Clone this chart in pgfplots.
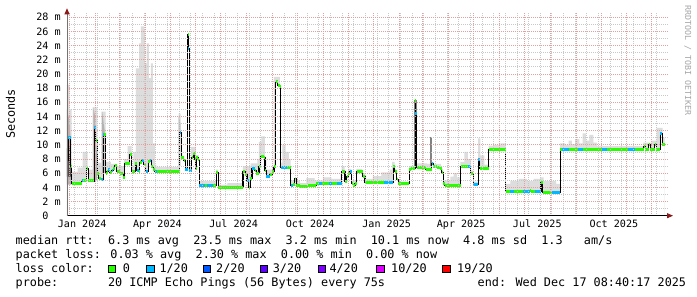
\documentclass[border=0pt]{standalone}
\usepackage{fontspec}
\newfontfamily\mono{DejaVu Sans Mono}
\usepackage{pgfplots}
\usepackage{pgfplotstable}
\pgfplotsset{compat=1.18}
\usetikzlibrary{arrows.meta}

\definecolor{lgreen}{RGB}{38,255,0}
\definecolor{lblue}{RGB}{0,184,255}
\definecolor{lb2}{RGB}{0,89,255}
\definecolor{lb3}{RGB}{94,0,255}
\definecolor{lb4}{RGB}{126,0,255}
\definecolor{lb10}{RGB}{221,0,255}
\definecolor{lb19}{RGB}{255,0,0}
\definecolor{smoke}{RGB}{221,221,221}
\definecolor{dsmoke}{RGB}{130,130,130}
\definecolor{mgrid}{RGB}{228,160,160}
\definecolor{ngrid}{RGB}{200,200,200}
\definecolor{arrowred}{RGB}{140,25,25}

\newcommand{\axf}{\fontsize{10.1}{12}\mono}
\newcommand{\lgf}{\fontsize{11.8}{14}\mono}

% median (day since 1 Jan 2024, ms)
\pgfplotstableread{
d v
-2.76 7.8
-1.0 11.0
1.5 7.0
2.8 4.6
14.8 4.9
20.8 6.6
22.8 4.9
30 12.4
31.6 10.6
33.6 6.0
35.6 5.3
37.6 5.1
40.8 11.4
43.6 6.0
44.8 6.3
46.8 6.5
48.8 6.1
50.8 6.4
52.8 6.7
54.8 7.1
56.8 6.2
60.8 6.0
64.8 5.4
66.8 7.3
70.8 7.4
72.8 8.6
74.8 6.3
79.2 7.3
80.8 6.4
83.2 6.2
84.8 7.5
86.8 7.8
89.6 7.2
92 6.2
94.8 7.6
96.8 7.8
98.8 7.0
100.8 6.5
102.8 6.2
132.8 11.7
134.4 8.2
137.6 7.8
139.2 6.5
142.4 25.6
143.0 23.6
144.4 6.4
147.2 8.2
148.8 8.8
150.8 8.0
152 6.7
152.8 8.2
155.2 7.9
156 4.3
172.8 4.2
176.8 6.1
179.2 4.0
208.8 6.3
211.6 5.8
213.6 5.0
215.6 4.0
217.6 5.3
219.6 6.6
222.8 6.4
224.8 6.0
228 7.0
230 8.4
234 8.2
235.2 6.4
236.8 5.5
240.8 5.8
244 6.2
246 6.9
248 18.9
250.4 18.4
252.8 18.2
254 6.8
266 4.3
269 4.4
271 5.2
273 4.3
277 4.1
287 4.3
297 4.5
327.4 6.3
331.4 4.8
333.4 5.5
335.4 6.0
337.4 6.2
339.4 4.5
341.4 4.2
343.4 4.6
345.4 6.2
347.4 6.3
352.6 5.6
355.4 4.7
389.4 7.0
391.4 6.2
393.4 5.1
395.4 4.5
408.6 6.5
410.2 6.7
415.6 16.3
416.0 14.4
417.4 6.8
428.6 6.5
435.4 7.3
437.4 6.9
441.4 6.8
445.4 6.6
447.4 6.1
449.4 4.5
451.4 4.3
470.2 6.9
482.6 5.9
485.4 4.4
491.8 8.0
493.4 6.7
504.2 9.3
524.6 3.4
553.4 3.6
555 3.4
567 4.7
569 3.3
590.2 9.3
690.2 9.7
692.2 9.3
696.2 10.1
698.2 9.4
703.4 10.1
705.4 9.4
710.2 11.6
712.6 10.0
715.4 10.0
}\med

% upper edge of the smoke
\pgfplotstableread{
d v
-2.76 18.5
0.5 15
2.8 6.2
10 6.8
16 9.0
22 6.5
28 15.3
33.6 7.5
38.5 14.7
43.6 7.6
50 7.3
56 7.0
66 8.0
70 9.8
74.8 7.0
77 9.0
80 20.8
84 24.3
86 26.7
89.6 26.4
91 21.5
93 24.3
95.5 19.4
98 21.5
100.6 10.2
102.8 7.2
104.8 6.9
131.5 14.4
133.8 9.0
136 8.0
140 7.0
145 7.0
146.5 9.7
152 8.6
155.5 7.5
156 4.9
176.5 6.5
179 4.4
190 4.6
200 4.6
208.5 7.0
218 7.4
226 8.0
228 10.4
231 11.2
235 8.0
237 6.5
244 7.0
246 19.6
253 7.5
256 10.0
260 9.0
264 8.0
266 5.0
277 4.6
285 5.3
295 5.0
305 5.4
315 5.2
326 6.0
327.4 7.0
331 5.5
335 6.6
339 5.0
345 6.6
352 6.0
355.4 5.2
365 5.6
375 6.1
385 6.5
388 7.6
391 6.6
393 5.4
395 4.8
408.5 7.0
414 7.2
418 7.4
430 7.3
433.5 7.6
438 7.3
447 6.6
449.4 5.0
458 5.5
462 6.0
466 5.4
470 7.6
475 9.0
479 8.0
483 6.4
485.4 4.8
491.5 10.9
494 8.5
499 7.2
504 9.9
510 10.0
518 10.2
524.4 4.5
530 4.9
540 5.2
550 4.9
558 5.2
566 5.4
570 4.9
585 4.5
590 10.2
596 10.0
600 10.6
604 10.1
608 10.8
613 10.2
617 11.6
621 10.6
625 11.4
630 10.3
634 9.8
660 9.8
690 10.3
700 10.6
706 12.4
713 11.0
715.4 11.0
}\smk

% segments with 1/20 loss
\pgfplotstableread{
d v
-1.0 11.0
1.5 11.0
nan nan
14.8 4.9
16.8 4.9
nan nan
30 12.4
31.6 12.4
nan nan
37.6 5.1
40.8 5.1
nan nan
40.8 11.4
42 11.4
nan nan
46.8 6.5
48.8 6.5
nan nan
50.8 6.4
52.8 6.4
nan nan
80.8 6.4
83.2 6.4
nan nan
86.8 7.8
89.6 7.8
nan nan
92 6.2
94.8 6.2
nan nan
96.8 7.8
98.8 7.8
nan nan
102.8 6.2
105 6.2
nan nan
132.8 11.7
134.4 11.7
nan nan
139.2 6.5
142.4 6.5
nan nan
143.0 23.6
144.4 23.6
nan nan
144.4 6.4
147.2 6.4
nan nan
156 4.3
163 4.3
nan nan
166 4.3
172.8 4.3
nan nan
213.6 5.0
215.6 5.0
nan nan
219.6 6.6
222.8 6.6
nan nan
236.8 5.5
240.8 5.5
nan nan
254 6.8
262 6.8
nan nan
266 4.3
269 4.3
nan nan
300 4.5
304 4.5
nan nan
312 4.5
316 4.5
nan nan
322 4.5
327.4 4.5
nan nan
337.4 6.2
339.4 6.2
nan nan
378 4.7
389.4 4.7
nan nan
416.0 14.4
417.4 14.4
nan nan
435.4 7.3
437.4 7.3
nan nan
479.4 6.9
482.6 6.9
nan nan
485.4 4.4
491.8 4.4
nan nan
491.8 8.0
493.4 8.0
nan nan
530 3.4
535 3.4
nan nan
545 3.4
553.4 3.4
nan nan
560 3.4
567 3.4
nan nan
580 3.3
590.2 3.3
nan nan
592 9.3
600 9.3
nan nan
612 9.3
618 9.3
nan nan
640 9.3
646 9.3
nan nan
672 9.3
680 9.3
nan nan
710.2 11.6
712.6 11.6
}\blu

\begin{document}
\begin{tikzpicture}
\useasboundingbox (0,0) rectangle (697pt,297pt);
\fill[white] (0,0) rectangle (697pt,297pt);
\begin{axis}[
  at={(67pt,81.3pt)}, anchor=south west,
  scale only axis, width=601pt, height=202.4pt,
  xmin=-2.76, xmax=719.6, ymin=0, ymax=28.56,
  axis on top,
  axis x line=bottom, axis y line=left,
  x axis line style={draw=black, line width=0.8pt, -{Triangle[length=6pt,width=5pt,color=arrowred,fill=arrowred]}, shorten >=-5pt},
  y axis line style={draw=black!55, line width=0.8pt, -{Triangle[length=6pt,width=5pt,color=arrowred,fill=arrowred]}, shorten >=-5pt},
  major tick length=0pt, minor tick length=0pt,
  xtick={0,31,60,91,121,152,182,213,244,274,305,335,366,397,425,456,486,517,547,578,609,639,670,700},
  xticklabels={},
  minor xtick={6,20,...,706},
  extra x ticks={15.5,106,197.5,289.5,381.5,471,562.5,654.5},
  extra x tick labels={Jan 2024,Apr 2024,Jul 2024,Oct 2024,Jan 2025,Apr 2025,Jul 2025,Oct 2025},
  extra x tick style={grid=none, major tick length=0pt},
  xticklabel style={font=\axf, anchor=base, yshift=-12.3pt, inner sep=0pt},
  ytick={0,2,...,28},
  yticklabels={0\phantom{~m},2 m,4 m,6 m,8 m,10 m,12 m,14 m,16 m,18 m,20 m,22 m,24 m,26 m,28 m},
  minor ytick={1,3,...,27},
  yticklabel style={font=\axf, anchor=east, inner sep=0pt, xshift=-6.2pt},
  grid=both,
  major grid style={draw=mgrid, line width=0.8pt, dash pattern=on 1pt off 1pt},
  minor grid style={draw=ngrid, line width=0.8pt, dash pattern=on 1pt off 1pt},
]
% light smoke
\addplot[fill=smoke, draw=none, const plot mark left] table[x=d,y=v] {\smk} \closedcycle;
\addplot[fill=white, draw=none, const plot mark left] table[x=d,y=v] {\med} \closedcycle;
% darker smoke near the spikes
\addplot[fill=gray!60, draw=none] coordinates {(-2.76,4.4) (-2.76,15) (0,13.5) (1.2,11.5) (2,8) (2.8,6.5) (2.8,4.4)} -- cycle;
\addplot[fill=black!70, draw=none] coordinates {(-2.76,5.5) (-2.76,9.5) (-1,11) (0.8,9) (1.8,6) (1.8,5.5)} -- cycle;
\addplot[fill=gray!60, draw=none] coordinates {(29,5) (29,15.3) (31,14) (33.5,8) (33.5,5)} -- cycle;
\addplot[fill=gray!60, draw=none] coordinates {(39.5,6) (39.5,14.7) (42.5,12) (42.5,6)} -- cycle;
\addplot[fill=gray!60, draw=none] coordinates {(131.5,7) (131.5,14) (133.5,13) (133.5,7)} -- cycle;
\addplot[fill=dsmoke, draw=none] coordinates {(414.8,7) (414.8,16.3) (417.6,16.3) (417.6,7)} -- cycle;
\addplot[fill=dsmoke, draw=none] coordinates {(433.8,7) (433.8,11.1) (436.2,11.1) (436.2,7)} -- cycle;
% median line
\addplot[black, line width=1.1pt, const plot mark left] table[x=d,y=v] {\med};
\addplot[lgreen, line width=3pt, jump mark left] table[x=d,y=v] {\med};
\addplot[lblue, line width=3pt, unbounded coords=jump] table[x=d,y=v] {\blu};
\end{axis}
% axis title and watermark
\node[rotate=90, anchor=base, font=\lgf, inner sep=0pt] at (15pt,183pt) {Seconds};
\node[rotate=-90, anchor=base west, font=\fontsize{8.3}{10}\mono, text=black!35, inner sep=0pt] at (685pt,292pt) {RRDTOOL / TOBI OETIKER};
% legend text
\node[anchor=base west, font=\lgf, inner sep=0pt] at (15.5pt,52.2pt) {median rtt:~~6.3 ms avg~~23.5 ms max~~3.2 ms min~~10.1 ms now~~4.8 ms sd~~1.3~~~am/s};
\node[anchor=base west, font=\lgf, inner sep=0pt] at (15.5pt,38.3pt) {packet loss: 0.03 \% avg~~2.30 \% max~~0.00 \% min~~0.00 \% now};
\node[anchor=base west, font=\lgf, inner sep=0pt] at (15.5pt,24.4pt) {loss color:};
\foreach \bx/\tx/\c/\lab in {108.3/122.6/lgreen/0, 146.7/159.3/lblue/1\slash20, 203.3/216/lb2/2\slash20, 260/272.6/lb3/3\slash20, 318.3/329.3/lb4/4\slash20, 376.7/391/lb10/10\slash20, 442.7/457/lb19/19\slash20}{
  \filldraw[fill=\c, draw=black, line width=0.7pt] (\bx pt,24.6pt) rectangle ++(7.3pt,7.3pt);
  \node[anchor=base west, font=\lgf, inner sep=0pt] at (\tx pt,24.4pt) {\lab};
}
\node[anchor=base west, font=\lgf, inner sep=0pt] at (15.5pt,10.5pt) {probe:~~~~~~~20 ICMP Echo Pings (56 Bytes) every 75s};
\node[anchor=base west, font=\lgf, inner sep=0pt] at (477.5pt,10.5pt) {end: Wed Dec 17 08:40:17 2025};
\end{tikzpicture}
\end{document}
